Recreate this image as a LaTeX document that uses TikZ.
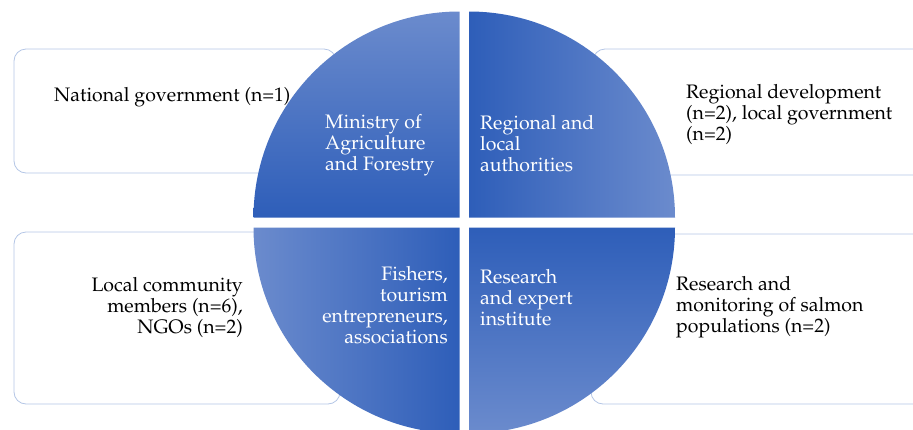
\documentclass[tikz,border=0pt]{standalone}
\usepackage[T1]{fontenc}
\usepackage{mathpazo}
\definecolor{qdark}{HTML}{2E5EB9}
\definecolor{qlight}{HTML}{6B8BCD}
\definecolor{boxline}{HTML}{B4C6E6}
\tikzset{
  infobox/.style={draw=boxline, line width=0.8pt, rounded corners=12pt, fill=white},
  qtext/.style={text=white, inner sep=0pt, font=\fontsize{19.5}{21}\selectfont},
  btext/.style={text=black, inner sep=0pt, font=\fontsize{19.5}{21}\selectfont}
}
\begin{document}
\begin{tikzpicture}[x=1pt,y=-1pt]
\useasboundingbox (0,0) rectangle (913,429);
\clip (0,0) rectangle (913,429);
% outer boxes
\draw[infobox] (14,49) rectangle (336,173);
\draw[infobox] (593,49) rectangle (930,175);
\draw[infobox] (14,232) rectangle (340,404);
\draw[infobox] (591,234) rectangle (930,404);
% quadrants
\shade[top color=qlight, bottom color=qdark] (459.5,217.5) -- (253.5,217.5) arc[start angle=180, end angle=90, x radius=206, y radius=-206] -- cycle;
\shade[left color=qdark, right color=qlight] (469,217.5) -- (469,11.5) arc[start angle=90, end angle=0, x radius=206, y radius=-206] -- cycle;
\shade[left color=qlight, right color=qdark] (459.5,227.5) -- (459.5,433.5) arc[start angle=270, end angle=180, x radius=206, y radius=-206] -- cycle;
\shade[top color=qdark, bottom color=qlight] (469,227.5) -- (675,227.5) arc[start angle=0, end angle=-90, x radius=206, y radius=-206] -- cycle;
% quadrant labels
\node[qtext, anchor=west, align=left] (q1) at (325,145) {Ministry of\\Agriculture\\and Forestry};
\node[qtext, anchor=west, align=left] (q2) at (480,144) {Regional and\\local\\authorities};
\node[qtext, anchor=east, align=right] (q3) at (448,305.5) {Fishers,\\tourism\\entrepreneurs,\\associations};
\node[qtext, anchor=west, align=left] (q4) at (480,298) {Research\\and expert\\institute};
% box labels
\node[btext, anchor=west, align=left] (b1) at (54,97) {National government (n=1)};
\node[btext, anchor=west, align=left] (b2) at (686,114) {Regional development\\(n=2), local government\\(n=2)};
\node[btext, anchor=east, align=right] (b3) at (243,307) {Local community\\members (n=6),\\NGOs (n=2)};
\node[btext, anchor=west, align=left] (b4) at (676,307) {Research and\\monitoring of salmon\\populations (n=2)};
\end{tikzpicture}
\end{document}
